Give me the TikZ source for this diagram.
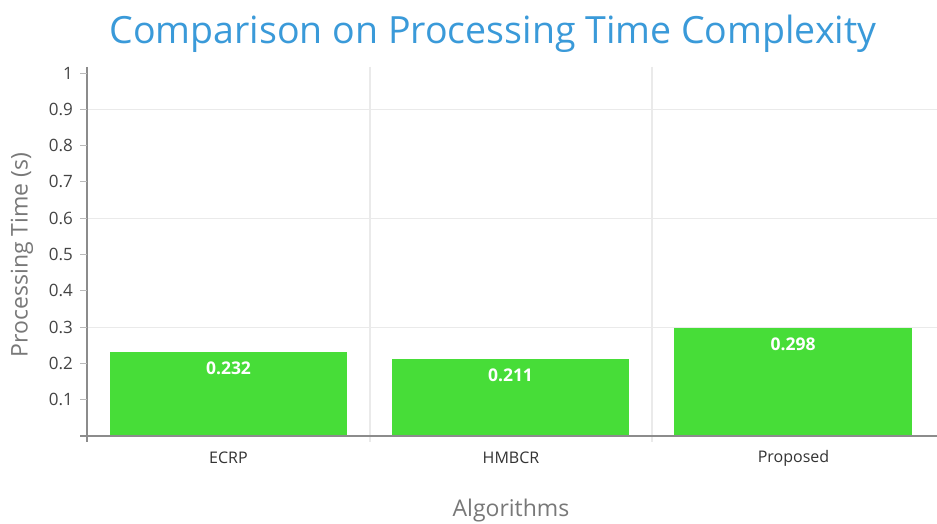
\documentclass[tikz,border=0pt]{standalone}
\usepackage{fontspec}
\setmainfont{Open Sans}
\definecolor{titleblue}{RGB}{58,154,217}
\definecolor{bargreen}{RGB}{71,221,56}
\definecolor{axisgray}{RGB}{140,140,140}
\definecolor{gridgray}{RGB}{234,234,234}
\definecolor{labelgray}{RGB}{120,120,120}
\definecolor{ticktext}{RGB}{68,68,68}
\definecolor{cattext}{RGB}{51,51,51}
\tikzset{
  gridline/.style={draw=gridgray, line width=1.2pt},
  axisline/.style={draw=axisgray, line width=1.5pt},
  bar/.style={fill=bargreen},
  barlabel/.style={text=white, font=\fontsize{17.5}{17.5}\selectfont\bfseries, inner sep=0pt},
  ticklabel/.style={text=ticktext, font=\fontsize{17}{17}\selectfont, anchor=east, inner sep=0pt},
  catlabel/.style={text=cattext, font=\fontsize{16}{16}\selectfont, inner sep=0pt},
  axistitle/.style={text=labelgray, font=\fontsize{23}{23}\selectfont, inner sep=0pt},
}
\begin{document}
\begin{tikzpicture}[x=1pt,y=-1pt]
\useasboundingbox[fill=white] (0,0) rectangle (937,524);
% value v sits at y = 436 - 363 v
% major grid
\foreach \v in {0.3,0.6,0.9}
  \draw[gridline] (87,{436-363*\v}) -- (937,{436-363*\v});
\foreach \x in {370,652}
  \draw[gridline] (\x,67) -- (\x,442);
% bars with their values
\foreach \name/\xa/\xb/\v in {ecrp/110/347/0.232, hmbcr/392/629/0.211, prop/674/912/0.298}{
  \fill[bar] (\xa,436) rectangle (\xb,{436-363*\v});
  \node[barlabel] (val-\name) at ({(\xa+\xb)/2},{436-363*\v+16}) {\v};
}
% axes
\draw[axisline] (87,67) -- (87,442);
\draw[axisline] (80,436) -- (937,436);
\foreach \v in {0.1,0.2,...,1.0}
  \draw[draw=axisgray!60, line width=1pt] (80,{436-363*\v}) -- (87,{436-363*\v});
\foreach \v/\t in {0.1/0.1,0.2/0.2,0.3/0.3,0.4/0.4,0.5/0.5,0.6/0.6,0.7/0.7,0.8/0.8,0.9/0.9,1/1}
  \node[ticklabel] (tick-\t) at (73,{436-363*\v}) {\t};
% category names
\node[catlabel] (cat-ecrp) at (228.5,458) {ECRP};
\node[catlabel] (cat-hmbcr) at (511,458) {HMBCR};
\node[catlabel] (cat-prop) at (793.5,458) {Proposed};
% titles
\node[text=titleblue, font=\fontsize{37.5}{37.5}\selectfont, inner sep=0pt] (title) at (493,34) {Comparison on Processing Time Complexity};
\node[axistitle] (xtitle) at (511,511) {Algorithms};
\node[axistitle, rotate=90] (ytitle) at (22,255) {Processing Time (s)};
\end{tikzpicture}
\end{document}
